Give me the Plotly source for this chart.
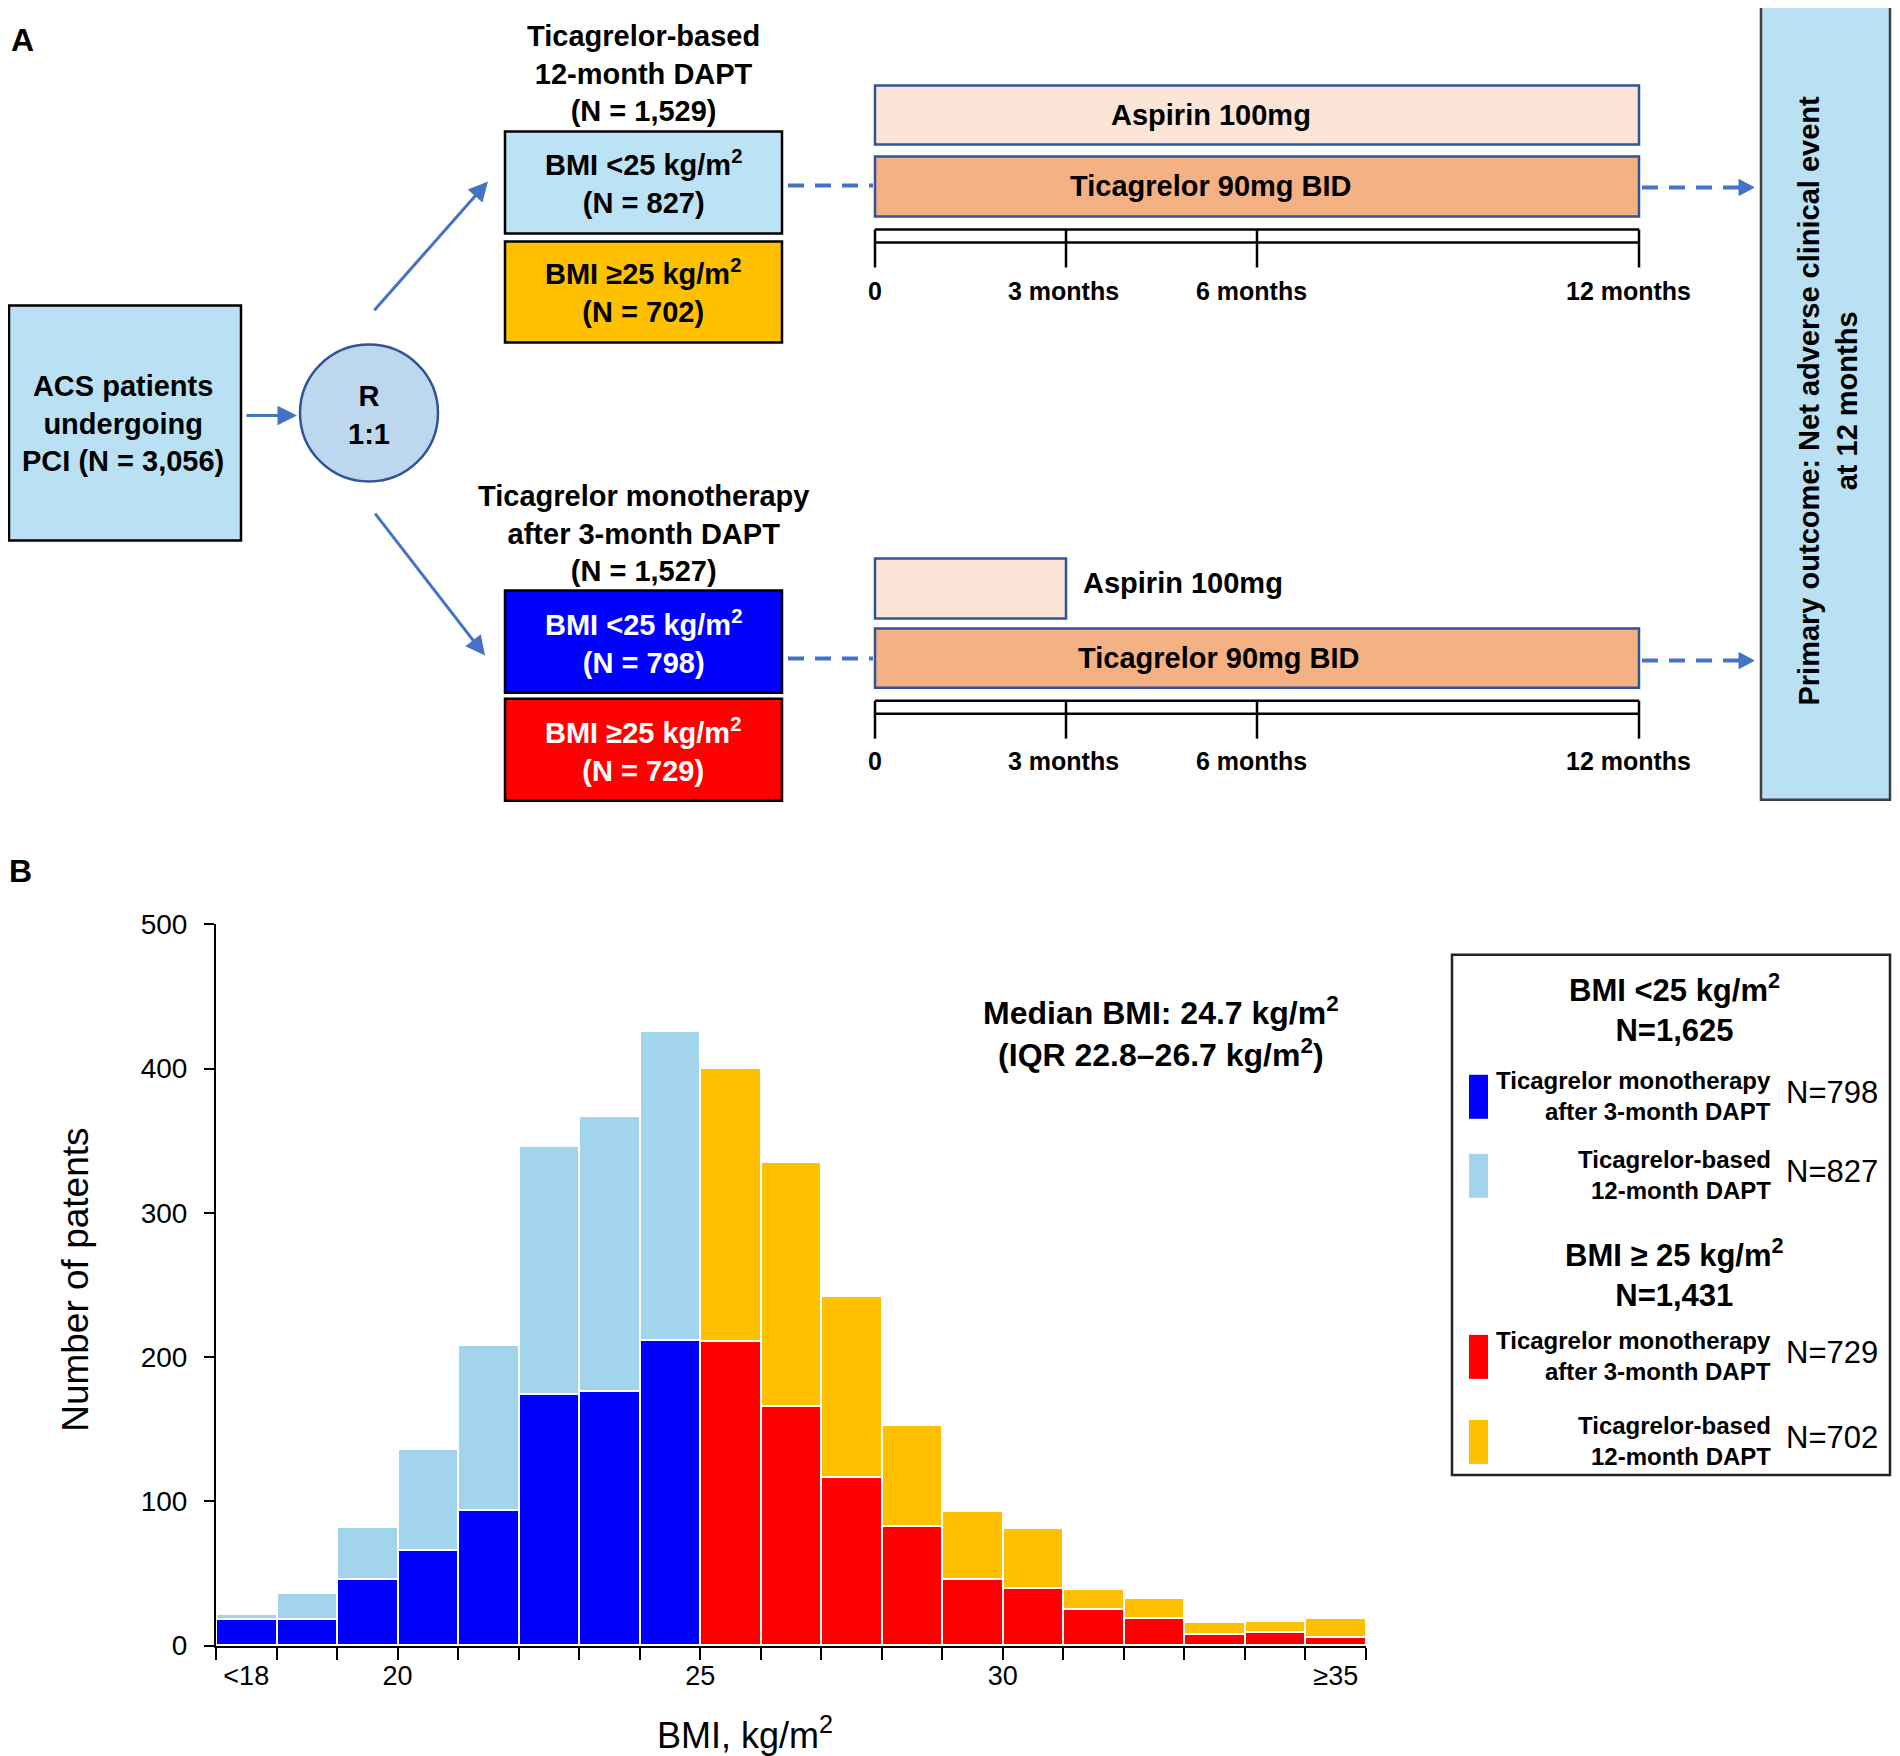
import plotly.graph_objects as go

# page placement calibration (body margin / capture offset)
OFF = 8
A0, S = 15.75, 0.9821
W, H = 1900 - 2 * OFF, 1766

# ---------------- data (panel B histogram) ----------------
bin_centers = [17.5 + i for i in range(19)]           # <18, 18-19, ..., 34-35, >=35
tick_vals = [17.5, 20, 25, 30, 35.5]
tick_text = ["&lt;18", "20", "25", "30", "≥35"]
mono_lt25 = [18, 18, 46, 66, 94, 174, 176, 212]          # BMI<25, ticagrelor monotherapy
dapt_lt25 = [4, 18, 36, 70, 114, 172, 191, 214]          # BMI<25, 12-month DAPT (stacked on top)
mono_ge25 = [211, 166, 117, 83, 46, 40, 25, 19, 8, 9, 6]  # BMI>=25, ticagrelor monotherapy
dapt_ge25 = [189, 169, 125, 70, 47, 41, 14, 14, 8, 8, 13] # BMI>=25, 12-month DAPT (stacked on top)

# ---------------- data (panel A timeline) ----------------
months = [0, 3, 6, 12]
month_labels = ["0", "3 months", "6 months", "12 months"]

C_BLUE = "#0000FF"
C_LBLUE = "#A2D4EC"
C_RED = "#FF0000"
C_ORANGE = "#FFC000"
C_ARROW = "#4472C4"
C_DARKBLUE = "#2F5597"
FONT = "Liberation Sans, Arial, sans-serif"


def fx(p):
    return p - OFF


def fy(p):
    return (p - A0) / S - OFF


def X(p):
    return fx(p) / W


def Y(p):
    return 1 - fy(p) / H


fig = go.Figure()

x_lt = bin_centers[:8]
x_ge = bin_centers[8:]
common = dict(width=1.0, marker_line_color="white", marker_line_width=2, showlegend=False,
              hoverinfo="skip")
fig.add_trace(go.Bar(x=x_lt, y=mono_lt25, marker_color=C_BLUE, **common))
fig.add_trace(go.Bar(x=x_lt, y=dapt_lt25, marker_color=C_LBLUE, **common))
fig.add_trace(go.Bar(x=x_ge, y=mono_ge25, marker_color=C_RED, **common))
fig.add_trace(go.Bar(x=x_ge, y=dapt_ge25, marker_color=C_ORANGE, **common))
# invisible trace to carry the label axis
fig.add_trace(go.Scatter(x=[17.5], y=[0], xaxis="x2", mode="markers",
                         marker=dict(opacity=0), showlegend=False, hoverinfo="skip"))

shapes = []
ann = []


def rect(x0, y0, x1, y1, fill, line="black", lw=2.5):
    shapes.append(dict(type="rect", xref="paper", yref="paper",
                       x0=X(x0), x1=X(x1), y0=Y(y1), y1=Y(y0),
                       fillcolor=fill, line=dict(color=line, width=lw), layer="above"))


def line(x0, y0, x1, y1, color="black", lw=2.5, dash="solid"):
    shapes.append(dict(type="line", xref="paper", yref="paper",
                       x0=X(x0), x1=X(x1), y0=Y(y0), y1=Y(y1),
                       line=dict(color=color, width=lw, dash=dash), layer="above"))


def tri(xtip, y, length=15, half=8, color=C_ARROW):
    path = f"M {X(xtip - length)} {Y(y - half)} L {X(xtip)} {Y(y)} L {X(xtip - length)} {Y(y + half)} Z"
    shapes.append(dict(type="path", xref="paper", yref="paper", path=path,
                       fillcolor=color, line=dict(color=color, width=1), layer="above"))


def text(x, y, s, size=29, color="black", bold=True, xanchor="center", align="center", angle=0,
         family=FONT):
    if bold:
        s = "<b>" + s.replace("<br>", "</b><br><b>") + "</b>"
    ann.append(dict(x=X(x), y=Y(y), xref="paper", yref="paper", text=s, showarrow=False,
                    xanchor=xanchor, yanchor="middle", align=align, textangle=angle,
                    font=dict(size=size, color=color, family=family)))


def arrow(x0, y0, x1, y1, color=C_ARROW, lw=3):
    ann.append(dict(x=X(x1), y=Y(y1), xref="paper", yref="paper",
                    ax=fx(x0) - fx(x1), ay=fy(y0) - fy(y1),
                    axref="pixel", ayref="pixel", text="", showarrow=True, arrowhead=2,
                    arrowsize=1.3, arrowwidth=lw, arrowcolor=color))


# ---------------- panel labels ----------------
text(22, 41, "A", size=32)
text(20, 871, "B", size=32)

# ---------------- panel A ----------------
rect(9, 306, 241, 541, "#B9E0F3")
text(123, 424, "ACS patients<br>undergoing<br>PCI (N = 3,056)")
arrow(245, 416, 297, 416)
shapes.append(dict(type="circle", xref="paper", yref="paper", x0=X(300), x1=X(438),
                   y0=Y(482), y1=Y(345), fillcolor="#BDD7EE",
                   line=dict(color=C_DARKBLUE, width=2.5), layer="above"))
text(369, 415, "R<br>1:1")
arrow(373, 310, 488, 182)
arrow(374, 515, 485, 656)

text(643, 74, "Ticagrelor-based<br>12-month DAPT<br>(N = 1,529)")
rect(505, 132, 782, 234, "#BCE2F5")
text(643, 183, "BMI &lt;25 kg/m<sup>2</sup><br>(N = 827)")
rect(505, 242, 782, 343, C_ORANGE)
text(643, 292, "BMI ≥25 kg/m<sup>2</sup><br>(N = 702)")

text(643, 534, "Ticagrelor monotherapy<br>after 3-month DAPT<br>(N = 1,527)")
rect(505, 591, 782, 693, C_BLUE)
text(643, 642, "BMI &lt;25 kg/m<sup>2</sup><br>(N = 798)", color="white")
rect(505, 699, 782, 801, C_RED)
text(643, 750, "BMI ≥25 kg/m<sup>2</sup><br>(N = 729)", color="white")

# timelines
T0, T12 = 875, 1639


def mx(m):
    return T0 + (T12 - T0) * m / 12


for (asp_end, y_asp, y_tic, y_rule, y_lab, y_dash) in [
        (12, (86, 145), (157, 217), 230, 292, 186),
        (3, (559, 619), (629, 688), 701, 761, 659)]:
    rect(mx(0), y_asp[0], mx(asp_end), y_asp[1], "#FBE5D6", line=C_DARKBLUE, lw=2.5)
    rect(mx(0), y_tic[0], mx(12), y_tic[1], "#F4B183", line=C_DARKBLUE, lw=2.5)
    # ruler
    line(mx(0), y_rule, mx(12), y_rule)
    line(mx(0), y_rule + 13, mx(12), y_rule + 13)
    for m in months:
        line(mx(m), y_rule, mx(m), y_rule + 38)
    for m, lab in zip(months, month_labels):
        off = {0: 0, 3: -3, 6: -6, 12: -11}[m]
        text(mx(m) + off, y_lab, lab, size=25)
    # dashed connectors
    line(788, y_dash, 873, y_dash, color=C_ARROW, lw=4, dash="16px,11px")
    line(1642, y_dash + 2, 1740, y_dash + 2, color=C_ARROW, lw=4, dash="16px,11px")
    tri(1754, y_dash + 2)

text(mx(6) - 46, 116, "Aspirin 100mg")
text(mx(6) - 46, 187, "Ticagrelor 90mg BID")
text(1081, 583, "Aspirin 100mg", xanchor="left", align="left")
text(mx(6) - 38, 658, "Ticagrelor 90mg BID")

rect(1761, 5, 1890, 800, "#B9E0F3", line="#404040", lw=2.5)
text(1828, 401, "Primary outcome: Net adverse clinical event<br>at 12 months", angle=-90)

# ---------------- panel B annotations ----------------
text(1161, 1032, "Median BMI: 24.7 kg/m<sup>2</sup><br>(IQR 22.8–26.7 kg/m<sup>2</sup>)", size=32)
text(76, 1280, "Number of patents", size=37, bold=False, angle=-90)
text(745, 1733, "BMI, kg/m<sup>2</sup>", size=36, bold=False)

# legend box
rect(1452, 955, 1890, 1475, "rgba(0,0,0,0)", line="#222222", lw=2.5)
text(1674, 1008, "BMI &lt;25 kg/m<sup>2</sup><br>N=1,625", size=31)
text(1674, 1273, "BMI ≥ 25 kg/m<sup>2</sup><br>N=1,431", size=31)
leg_items = [
    (C_BLUE, 1075, "Ticagrelor monotherapy<br>after 3-month DAPT", "N=798"),
    (C_LBLUE, 1154, "Ticagrelor-based<br>12-month DAPT", "N=827"),
    (C_RED, 1335, "Ticagrelor monotherapy<br>after 3-month DAPT", "N=729"),
    (C_ORANGE, 1420, "Ticagrelor-based<br>12-month DAPT", "N=702"),
]
for col, ytop, lab, n in leg_items:
    rect(1469, ytop, 1488, ytop + 44, col, line=col, lw=0)
    text(1773, ytop + 21, lab, size=24, xanchor="right", align="right")
    text(1784, ytop + 18, n, size=31, bold=False, xanchor="left", align="left")

fig.update_layout(
    width=W, height=H,
    margin=dict(l=0, r=0, t=0, b=0),
    paper_bgcolor="white", plot_bgcolor="white",
    barmode="stack", bargap=0,
    showlegend=False,
    font=dict(family=FONT, color="black"),
    shapes=shapes, annotations=ann,
    xaxis=dict(domain=[X(216), X(1366)], range=[17, 36], tickmode="array",
               tickvals=list(range(17, 37)), showticklabels=False,
               ticks="outside", ticklen=12, tickwidth=2, tickcolor="black",
               showline=True, linecolor="black", linewidth=2,
               showgrid=False, zeroline=False, fixedrange=True),
    xaxis2=dict(overlaying="x", anchor="y", side="bottom", range=[17, 36],
                tickmode="array", tickvals=tick_vals, ticktext=tick_text,
                ticks="outside", ticklen=6, tickcolor="rgba(0,0,0,0)",
                tickfont=dict(size=27, family=FONT, color="black"),
                showline=False, showgrid=False, zeroline=False),
    yaxis=dict(domain=[Y(1645.7), Y(924.6)], range=[0, 500], tickmode="array",
               tickvals=[0, 100, 200, 300, 400, 500],
               ticks="outside", ticklen=10, tickwidth=2, tickcolor="black",
               tickfont=dict(size=28, family=FONT, color="black"),
               ticklabelstandoff=11,
               showline=True, linecolor="black", linewidth=2,
               showgrid=False, zeroline=False),
)

fig.write_html("out.html")
